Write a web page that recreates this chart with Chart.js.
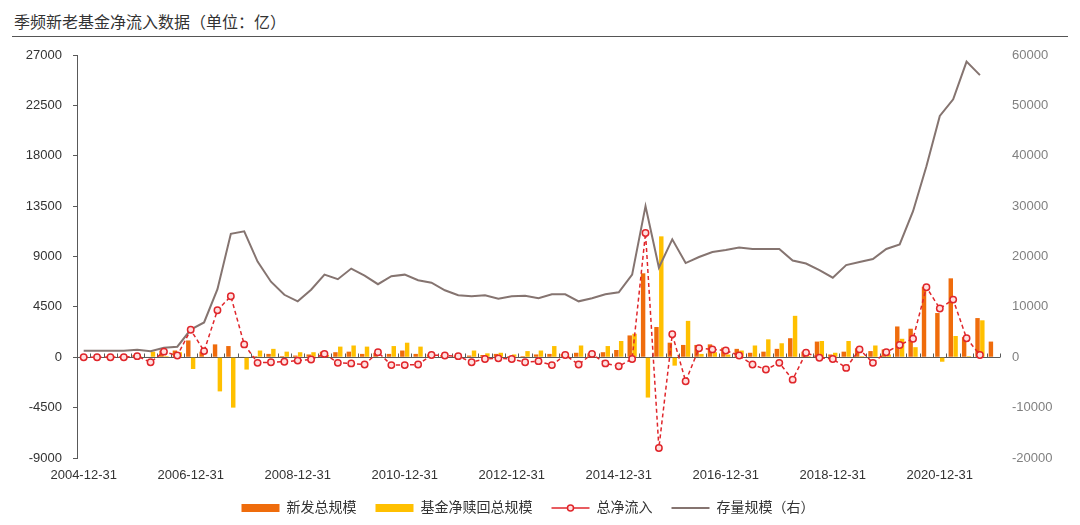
<!DOCTYPE html>
<html>
<head>
<meta charset="utf-8">
<script src="https://cdn.jsdelivr.net/npm/chart.js@4"></script>
<style>
  html, body { margin: 0; padding: 0; background: #fff; }
  body { width: 1080px; height: 525px; position: relative; overflow: hidden;
         font-family: 'Liberation Sans', 'Noto Sans CJK SC', sans-serif; }
  #title { position: absolute; left: 12px; top: 10px; width: 1056px; height: 27px;
           border-bottom: 1px solid #555; font-size: 16px; color: #333; padding-left: 2px;
           font-family: 'Noto Sans CJK SC', sans-serif; line-height: 22px; box-sizing: border-box; }
  #wrap { position: absolute; left: 0; top: 40px; width: 1080px; height: 485px; }
</style>
</head>
<body>
<div id="title">季频新老基金净流入数据（单位：亿）</div>
<div id="wrap"><canvas id="flowChart"></canvas></div>
<script>
// Données trimestrielles
const quarters = [
  '2004-12-31',
  '2005-03-31','2005-06-30','2005-09-30','2005-12-31',
  '2006-03-31','2006-06-30','2006-09-30','2006-12-31',
  '2007-03-31','2007-06-30','2007-09-30','2007-12-31',
  '2008-03-31','2008-06-30','2008-09-30','2008-12-31',
  '2009-03-31','2009-06-30','2009-09-30','2009-12-31',
  '2010-03-31','2010-06-30','2010-09-30','2010-12-31',
  '2011-03-31','2011-06-30','2011-09-30','2011-12-31',
  '2012-03-31','2012-06-30','2012-09-30','2012-12-31',
  '2013-03-31','2013-06-30','2013-09-30','2013-12-31',
  '2014-03-31','2014-06-30','2014-09-30','2014-12-31',
  '2015-03-31','2015-06-30','2015-09-30','2015-12-31',
  '2016-03-31','2016-06-30','2016-09-30','2016-12-31',
  '2017-03-31','2017-06-30','2017-09-30','2017-12-31',
  '2018-03-31','2018-06-30','2018-09-30','2018-12-31',
  '2019-03-31','2019-06-30','2019-09-30','2019-12-31',
  '2020-03-31','2020-06-30','2020-09-30','2020-12-31',
  '2021-03-31','2021-06-30','2021-09-30','2021-12-31'
];

const xTickLabels = ['2004-12-31', '2006-12-31', '2008-12-31', '2010-12-31',
  '2012-12-31', '2014-12-31', '2016-12-31', '2018-12-31', '2020-12-31'];

// 新发总规模
const newIssue = [
  50,
  50, 100, 100, 200,
  50, 600, 600, 1500,
  500, 1150, 1000, 50,
  100, 300, 100, 150,
  250, 500, 450, 500,
  300, 400, 300, 600,
  300, 250, 200, 150,
  150, 200, 300, 100,
  100, 250, 300, 300,
  400, 350, 450, 650,
  1950, 7500, 2700, 1300,
  1100, 1100, 1150, 850,
  750, 400, 500, 750,
  1700, 500, 1400, 250,
  500, 800, 550, 700,
  2750, 2550, 6300, 3950,
  7050, 1800, 3500, 1400
];

// 基金净赎回总规模
const netRedemption = [
  50,
  50, 100, 100, 100,
  500, 100, 450, -1050,
  -50, -3050, -4500, -1100,
  600, 750, 500, 450,
  450, 200, 950, 1050,
  950, -50, 1000, 1300,
  950, 50, 50, 50,
  600, 350, 400, 250,
  550, 600, 1000, 100,
  1050, 50, 1000, 1450,
  2100, -3600, 10800, -750,
  3250, 300, 450, 250,
  600, 1050, 1600, 1250,
  3700, 100, 1450, 400,
  1450, 100, 1050, 250,
  1650, 900, 50, -400,
  1900, 100, 3300, null
];

// 总净流入
const netInflow = [
  0,
  0, 0, 0, 100,
  -450, 500, 150, 2450,
  550, 4200, 5450, 1150,
  -500, -450, -400, -300,
  -200, 300, -500, -550,
  -650, 450, -700, -700,
  -650, 200, 150, 100,
  -450, -150, -100, -150,
  -450, -350, -700, 200,
  -650, 300, -550, -800,
  -150, 11100, -8100, 2050,
  -2150, 800, 700, 600,
  150, -650, -1100, -500,
  -2000, 400, -50, -150,
  -950, 700, -500, 450,
  1100, 1650, 6250, 4350,
  5150, 1700, 200, null
];

// 存量规模（右）
const stockSize = [
  1300,
  1300, 1300, 1300, 1500,
  1200, 1900, 2100, 5500,
  6900, 13500, 24500, 25000,
  19000, 15000, 12400, 11100,
  13400, 16400, 15500, 17600,
  16200, 14500, 16100, 16400,
  15300, 14800, 13300, 12300,
  12100, 12300, 11600, 12100,
  12200, 11700, 12500, 12500,
  11100, 11700, 12500, 12900,
  16400, 30000, 17800, 23400,
  18700, 19900, 20900, 21300,
  21800, 21500, 21500, 21500,
  19200, 18600, 17300, 15800,
  18300, 18900, 19500, 21500,
  22400, 29000, 37900, 47900,
  51200, 58700, 56000, null
];

const fontFamily = "'Liberation Sans', 'Noto Sans CJK SC', sans-serif";
const axisColor = '#595959';

// Axe horizontal au niveau zéro, avec graduations entre catégories
const zeroAxisPlugin = {
  id: 'zeroAxis',
  beforeDatasetsDraw(chart) {
    const { ctx, chartArea, scales } = chart;
    const y0 = Math.round(scales.y.getPixelForValue(0)) + 0.5;
    const n = quarters.length;
    const step = (chartArea.right - chartArea.left) / n;
    ctx.save();
    ctx.strokeStyle = axisColor;
    ctx.lineWidth = 1;
    ctx.beginPath();
    ctx.moveTo(chartArea.left, y0);
    ctx.lineTo(chartArea.right, y0);
    for (let k = 1; k <= n; k++) {
      const x = Math.round(chartArea.left + k * step) + 0.5;
      ctx.moveTo(x, y0);
      ctx.lineTo(x, y0 - 4);
    }
    ctx.stroke();
    ctx.restore();
  }
};

// Marqueur rond au milieu de la ligne pointillée de la légende
const legendMarkerPlugin = {
  id: 'legendMarker',
  afterDraw(chart) {
    const legend = chart.legend;
    if (!legend || !legend.legendHitBoxes) return;
    const idx = legend.legendItems.findIndex(item => item.datasetIndex === 2);
    const box = legend.legendHitBoxes[idx];
    if (!box) return;
    const { ctx } = chart;
    ctx.save();
    ctx.beginPath();
    ctx.arc(box.left + 19, box.top + box.height / 2, 3, 0, Math.PI * 2);
    ctx.fillStyle = '#ffe0e0';
    ctx.fill();
    ctx.lineWidth = 1.5;
    ctx.strokeStyle = '#e0262b';
    ctx.stroke();
    ctx.restore();
  }
};

// Largeur fixe des axes verticaux, sans marge haute/basse due aux libellés
function fixVerticalAxis(width) {
  return scale => {
    scale.width = width;
    scale.paddingTop = 0;
    scale.paddingBottom = 0;
  };
}

const ctx = document.getElementById('flowChart').getContext('2d');
const chart = new Chart(ctx, {
  type: 'bar',
  data: {
    labels: quarters,
    datasets: [
      {
        label: '新发总规模',
        data: newIssue,
        backgroundColor: '#ef6c0c',
        yAxisID: 'y',
        order: 3,
        categoryPercentage: 0.72,
        barPercentage: 0.92
      },
      {
        label: '基金净赎回总规模',
        data: netRedemption,
        backgroundColor: '#ffc000',
        yAxisID: 'y',
        order: 3,
        categoryPercentage: 0.72,
        barPercentage: 0.92
      },
      {
        type: 'line',
        label: '总净流入',
        data: netInflow,
        yAxisID: 'y',
        order: 1,
        borderColor: '#e0262b',
        borderWidth: 1.5,
        borderDash: [4, 3],
        pointStyle: 'circle',
        pointRadius: 3.2,
        pointBorderWidth: 1.5,
        pointBorderColor: '#e0262b',
        pointBackgroundColor: '#ffe0e0',
        backgroundColor: '#e0262b',
        tension: 0
      },
      {
        type: 'line',
        label: '存量规模（右）',
        data: stockSize,
        yAxisID: 'y1',
        order: 2,
        borderColor: '#857470',
        backgroundColor: '#857470',
        borderWidth: 2,
        pointRadius: 0,
        tension: 0
      }
    ]
  },
  options: {
    responsive: true,
    maintainAspectRatio: false,
    animation: false,
    layout: { padding: { top: 15, left: 0, right: 24, bottom: 0 } },
    scales: {
      x: {
        grid: { display: false, drawTicks: false },
        border: { display: false },
        ticks: {
          autoSkip: false,
          maxRotation: 0,
          minRotation: 0,
          padding: 10,
          color: '#333',
          font: { family: fontFamily, size: 13 },
          callback: function(value, index) {
            const label = quarters[index];
            return xTickLabels.includes(label) ? label : '';
          }
        },
        afterFit: scale => { scale.height = 24; }
      },
      y: {
        position: 'left',
        min: -9000,
        max: 27000,
        grid: { drawOnChartArea: false, drawTicks: true, tickLength: 4, color: axisColor },
        border: { display: true, color: axisColor, width: 1 },
        ticks: {
          stepSize: 4500,
          padding: 11,
          color: '#333',
          font: { family: fontFamily, size: 13 },
          callback: value => String(value)
        },
        afterFit: fixVerticalAxis(77)
      },
      y1: {
        position: 'right',
        min: -20000,
        max: 60000,
        grid: { drawOnChartArea: false, drawTicks: false },
        border: { display: false },
        ticks: {
          stepSize: 10000,
          padding: 12,
          color: '#808080',
          font: { family: fontFamily, size: 13 },
          callback: value => String(value)
        },
        afterFit: fixVerticalAxis(56)
      }
    },
    plugins: {
      legend: {
        position: 'bottom',
        labels: {
          usePointStyle: true,
          pointStyleWidth: 38,
          boxHeight: 8,
          padding: 19,
          color: '#333',
          font: { family: fontFamily, size: 14 },
          sort: (a, b) => a.datasetIndex - b.datasetIndex,
          generateLabels: function(chart) {
            const items = Chart.defaults.plugins.legend.labels.generateLabels(chart);
            items.forEach(item => {
              const ds = chart.data.datasets[item.datasetIndex];
              item.pointStyle = ds.type === 'line' ? 'line' : 'rect';
            });
            return items;
          }
        }
      },
      tooltip: { enabled: false }
    }
  },
  plugins: [zeroAxisPlugin, legendMarkerPlugin]
});
</script>
</body>
</html>
